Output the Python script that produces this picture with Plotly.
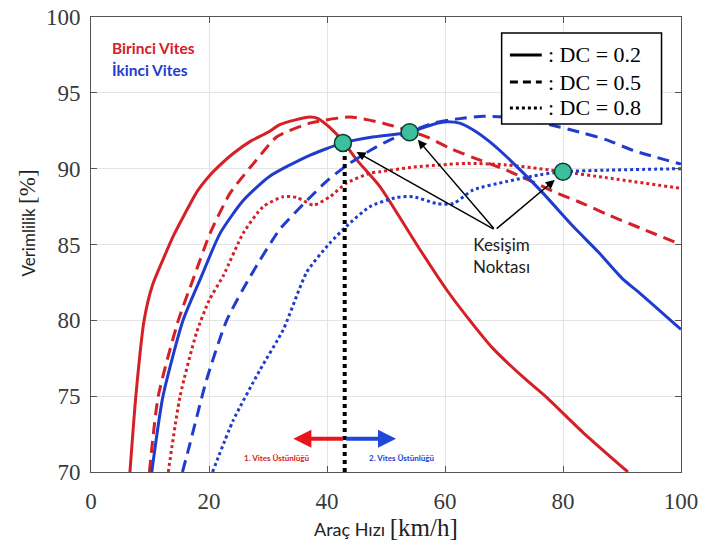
import plotly.graph_objects as go

# ---------------- data ----------------
# Birinci Vites (first gear)
x_r02 = [6.6, 7.6, 9.0, 10.4, 12.2, 14.0, 15.6, 18.0, 20.0, 21.5, 24.1, 27.0, 30.0, 32.0, 34.5, 37.1, 38.5, 40.5, 42.7, 45.0, 49.0, 55.2, 60.3, 64.2, 68.0, 73.4, 77.0, 83.4, 91.0]
y_r02 = [70.0, 75.0, 80.0, 82.3, 84.0, 85.6, 86.8, 88.5, 89.5, 90.1, 91.0, 91.8, 92.4, 92.9, 93.2, 93.4, 93.3, 92.7, 91.8, 90.6, 88.8, 85.0, 82.0, 80.0, 78.2, 76.2, 75.0, 72.6, 70.0]

x_r05 = [9.9, 11.4, 14.8, 17.3, 20.2, 23.6, 28.1, 31.5, 37.1, 43.9, 49.5, 56.9, 60.8, 65.0, 70.4, 75.6, 78.9, 83.4, 87.4, 93.0, 100.0]
y_r05 = [70.0, 75.0, 80.0, 82.7, 85.75, 88.4, 90.6, 92.1, 93.0, 93.4, 93.0, 92.1, 91.35, 90.7, 89.9, 89.0, 88.4, 87.7, 87.0, 86.1, 85.0]

x_r08 = [13.1, 15.1, 17.9, 20.0, 22.5, 25.8, 29.2, 32.6, 34.9, 37.7, 40.5, 43.3, 47.3, 49.0, 54.6, 59.2, 63.7, 70.4, 80.0, 87.4, 100.0]
y_r08 = [70.0, 75.0, 79.2, 81.3, 83.0, 85.75, 87.5, 88.15, 88.1, 87.6, 88.15, 89.05, 89.7, 89.8, 90.1, 90.25, 90.35, 90.25, 89.8, 89.4, 88.7]

# İkinci Vites (second gear)
x_b02 = [10.3, 12.2, 15.6, 18.5, 21.9, 25.8, 30.3, 36.6, 42.7, 48.0, 54.0, 58.6, 60.3, 62.5, 64.8, 67.5, 70.4, 76.1, 81.7, 86.0, 90.2, 93.0, 100.0]
y_b02 = [70.0, 75.0, 80.0, 82.7, 85.75, 87.9, 89.5, 90.8, 91.7, 92.1, 92.4, 93.0, 93.1, 93.0, 92.55, 91.8, 90.8, 88.6, 86.2, 84.5, 82.7, 81.8, 79.4]

x_b05 = [15.5, 16.8, 19.6, 23.0, 27.0, 32.0, 36.6, 40.0, 43.3, 47.3, 50.7, 58.0, 62.5, 66.5, 72.0, 77.8, 83.4, 87.4, 91.9, 100.0]
y_b05 = [70.0, 71.9, 76.1, 80.0, 82.9, 86.0, 87.9, 89.2, 90.2, 91.2, 91.9, 93.0, 93.3, 93.45, 93.35, 92.9, 92.35, 91.9, 91.2, 90.3]

x_b08 = [20.6, 24.1, 28.6, 32.6, 36.6, 40.5, 43.3, 47.3, 51.8, 54.6, 58.6, 61.4, 64.8, 70.4, 76.1, 80.0, 87.4, 100.0]
y_b08 = [70.0, 73.4, 76.7, 79.4, 83.2, 85.1, 86.2, 87.5, 88.1, 88.15, 87.7, 87.7, 88.6, 89.15, 89.6, 89.8, 89.9, 90.0]

# intersection points
x_int = [42.7, 54.0, 80.0]
y_int = [91.7, 92.4, 89.8]

# gear-change boundary
x_div = [43.0, 43.0]
y_div = [70.0, 91.7]

x_ticks = [0, 20, 40, 60, 80, 100]
y_ticks = [70, 75, 80, 85, 90, 95, 100]

legend_names = [": DC = 0.2", ": DC = 0.5", ": DC = 0.8"]

RED = "#d42026"
BLUE = "#1f3ccf"
SERIF = "Liberation Serif"
SANS = "Lato"

dash_long = "12px,7px"

fig = go.Figure()

def add_line(x, y, color, dash):
    fig.add_trace(go.Scatter(x=x, y=y, mode="lines", showlegend=False,
                             line=dict(color=color, width=3, dash=dash,
                                       shape="spline", smoothing=0.6),
                             hoverinfo="skip"))

add_line(x_r02, y_r02, RED, "solid")
add_line(x_r05, y_r05, RED, dash_long)
add_line(x_r08, y_r08, RED, "dot")
add_line(x_b02, y_b02, BLUE, "solid")
add_line(x_b05, y_b05, BLUE, dash_long)
add_line(x_b08, y_b08, BLUE, "dot")

# divider
fig.add_trace(go.Scatter(x=x_div, y=y_div, mode="lines", showlegend=False,
                         line=dict(color="black", width=4, dash="dot"), cliponaxis=False))

# intersection markers
fig.add_trace(go.Scatter(x=x_int, y=y_int, mode="markers", showlegend=False,
                         marker=dict(size=17, color="#3cbf9c",
                                     line=dict(color="#0b3b2c", width=1.5))))

annotations = []
shapes = []

# ---- legend box (line-style key) ----
shapes.append(dict(type="rect", xref="paper", yref="paper", x0=0.696, x1=0.967,
                   y0=0.765, y1=0.965, line=dict(color="black", width=1.5),
                   fillcolor="white", layer="above"))
key_y = [0.9165, 0.8571, 0.8000]
for name, d, ky in zip(legend_names, ["solid", "8px,5px", "dot"], key_y):
    shapes.append(dict(type="line", xref="paper", yref="paper", x0=0.710, x1=0.764,
                       y0=ky, y1=ky, line=dict(color="black", width=3, dash=d),
                       layer="above"))
    annotations.append(dict(x=0.772, y=ky, xref="paper", yref="paper", xanchor="left",
                            yanchor="middle", showarrow=False, text=name,
                            font=dict(family=SERIF, size=22, color="black")))

# gear labels
annotations.append(dict(x=0.032, y=0.932, xref="paper", yref="paper", xanchor="left",
                        yanchor="middle", showarrow=False,
                        text="<b>Birinci Vites</b>", font=dict(family=SANS, size=15.5, color=RED)))
annotations.append(dict(x=0.032, y=0.884, xref="paper", yref="paper", xanchor="left",
                        yanchor="middle", showarrow=False,
                        text="<b>İkinci Vites</b>", font=dict(family=SANS, size=15.5, color=BLUE)))

# Kesişim Noktası arrows
tail_x, tail_y = 68.5, 85.96
for hx, hy in [(45.0, 91.1), (55.4, 91.9), (78.6, 89.25)]:
    annotations.append(dict(x=hx, y=hy, ax=tail_x, ay=tail_y, xref="x", yref="y",
                            axref="x", ayref="y", showarrow=True, arrowhead=2,
                            arrowsize=1.2, arrowwidth=1.5, arrowcolor="black", text=""))
annotations.append(dict(x=69.5, y=84.3, xref="x", yref="y", showarrow=False,
                        text="Kesişim<br>Noktası", align="center",
                        font=dict(family=SANS, size=17, color="#222222")))

# gear advantage arrows
annotations.append(dict(x=34.3, y=72.2, ax=43.0, ay=72.2, xref="x", yref="y",
                        axref="x", ayref="y", showarrow=True, arrowhead=2,
                        arrowsize=0.9, arrowwidth=4, arrowcolor="#e8161c", text=""))
annotations.append(dict(x=51.7, y=72.2, ax=43.0, ay=72.2, xref="x", yref="y",
                        axref="x", ayref="y", showarrow=True, arrowhead=2,
                        arrowsize=0.9, arrowwidth=4, arrowcolor="#1d48d8", text=""))
annotations.append(dict(x=31.5, y=70.9, xref="x", yref="y", showarrow=False,
                        text="<b>1. Vites Üstünlüğü</b>",
                        font=dict(family=SANS, size=8, color=RED)))
annotations.append(dict(x=52.6, y=70.9, xref="x", yref="y", showarrow=False,
                        text="<b>2. Vites Üstünlüğü</b>",
                        font=dict(family=SANS, size=8, color=BLUE)))

# axis titles
annotations.append(dict(x=0.5, y=-0.121, xref="paper", yref="paper", showarrow=False,
                        yanchor="middle",
                        text="Araç Hızı <span style='font-family:Liberation Serif;font-size:25px'>[km/h]</span>",
                        font=dict(family=SANS, size=18, color="#222222")))
annotations.append(dict(x=-0.107, y=0.548, xref="paper", yref="paper", showarrow=False,
                        textangle=-90, xanchor="center",
                        text="Verimlilik <span style='font-family:Liberation Serif;font-size:23px'>[%]</span>",
                        font=dict(family=SANS, size=17, color="#222222")))

fig.update_layout(
    template="none",
    width=702, height=541,
    margin=dict(l=91, r=21, t=17, b=69, autoexpand=False),
    paper_bgcolor="white", plot_bgcolor="white",
    annotations=annotations,
    shapes=shapes,
    showlegend=False,
)
axis_common = dict(showgrid=True, gridcolor="#e4e4e4", gridwidth=1, automargin=False,
                   showline=True, linecolor="#555555", linewidth=1, mirror="ticks",
                   ticks="inside", ticklen=6, tickcolor="#555555", zeroline=False,
                   tickfont=dict(family=SERIF, size=23, color="#3a3a3a"))
fig.update_xaxes(range=[0, 100], tickvals=x_ticks, ticklabelstandoff=8, **axis_common)
fig.update_yaxes(range=[70, 100], tickvals=y_ticks, ticklabelstandoff=5, **axis_common)

fig.write_html(
    "out.html",
    config={"displayModeBar": False},
    post_script="document.body.style.margin='0';document.body.style.overflow='hidden';",
)
